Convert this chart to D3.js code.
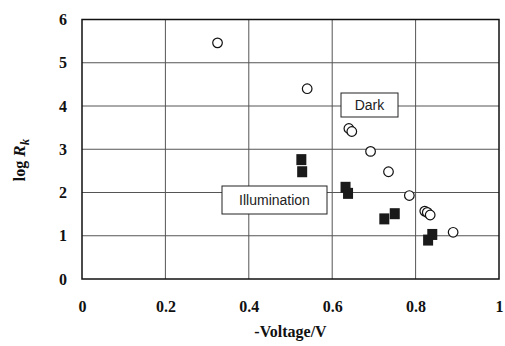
<!DOCTYPE html>
<html>

<head>
    <meta charset="utf-8">
    <title>log Rk vs voltage</title>
    <script type="text/javascript" src="https://d3js.org/d3.v7.min.js"></script>
    <style>
        body {
            margin: 0;
            background: #fff;
        }

        svg {
            display: block;
        }

        .grid line {
            stroke: #555;
            stroke-width: 1;
        }
    </style>
</head>

<body>
</body>

<script type="text/javascript">
    var w = 505;
    var h = 346;

    // tick labels
    var xTicks = [0, 0.2, 0.4, 0.6, 0.8, 1];
    var yTicks = [0, 1, 2, 3, 4, 5, 6];

    // dark series (open circles)
    var darkX = [0.325, 0.540, 0.640, 0.647, 0.692, 0.735, 0.785, 0.822, 0.828, 0.835, 0.890];
    var darkY = [5.46, 4.40, 3.48, 3.41, 2.95, 2.48, 1.93, 1.57, 1.54, 1.48, 1.08];

    // illumination series (filled squares)
    var illumX = [0.526, 0.528, 0.632, 0.638, 0.725, 0.750, 0.830, 0.840];
    var illumY = [2.76, 2.48, 2.12, 1.98, 1.39, 1.51, 0.90, 1.03];

    var serif = "'Liberation Serif', 'Times New Roman', serif";
    var margin = { top: 19.5, right: 6, bottom: 67, left: 82 };

    var x = d3.scaleLinear().domain([0, 1]).range([margin.left, w - margin.right]);
    var y = d3.scaleLinear().domain([0, 6]).range([h - margin.bottom, margin.top]);

    var svg = d3.select("body")
        .append("svg")
        .attr("width", w)
        .attr("height", h);

    //Grid lines
    var grid = svg.append("g").attr("class", "grid");
    grid.selectAll("line.v")
        .data(xTicks.slice(1, -1))
        .enter()
        .append("line")
        .attr("class", "v")
        .attr("x1", function(d) { return x(d); })
        .attr("x2", function(d) { return x(d); })
        .attr("y1", y(0))
        .attr("y2", y(6));

    grid.selectAll("line.h")
        .data(yTicks.slice(1, -1))
        .enter()
        .append("line")
        .attr("class", "h")
        .attr("x1", x(0))
        .attr("x2", x(1))
        .attr("y1", function(d) { return y(d); })
        .attr("y2", function(d) { return y(d); });

    //Axes (labels only, frame drawn separately)
    var xAxis = svg.append("g")
        .attr("transform", "translate(0," + y(0) + ")")
        .call(d3.axisBottom(x).tickValues(xTicks).tickSize(0).tickPadding(22)
            .tickFormat(function(d) { return String(d); }));

    var yAxis = svg.append("g")
        .attr("transform", "translate(" + x(0) + ",0)")
        .call(d3.axisLeft(y).tickValues(yTicks).tickSize(0).tickPadding(15)
            .tickFormat(function(d) { return String(d); }));

    [xAxis, yAxis].forEach(function(ax) {
        ax.select(".domain").remove();
        ax.attr("font-family", null).attr("font-size", null);
        ax.selectAll("text")
            .style("font-family", serif)
            .style("font-weight", "bold")
            .style("font-size", "16px")
            .attr("fill", "#111");
    });

    //Plot frame
    svg.append("rect")
        .attr("x", x(0))
        .attr("y", y(6))
        .attr("width", x(1) - x(0))
        .attr("height", y(0) - y(6))
        .attr("fill", "none")
        .attr("stroke", "#111")
        .attr("stroke-width", 1.5);

    //Axis titles
    svg.append("text")
        .attr("x", (x(0) + x(1)) / 2)
        .attr("y", 337)
        .attr("text-anchor", "middle")
        .style("font-family", serif)
        .style("font-weight", "bold")
        .style("font-size", "16px")
        .attr("fill", "#111")
        .text("-Voltage/V");

    var yTitle = svg.append("text")
        .attr("transform", "translate(25,160) rotate(-90)")
        .attr("text-anchor", "middle")
        .style("font-family", serif)
        .style("font-weight", "bold")
        .style("font-size", "16px")
        .attr("fill", "#111");
    yTitle.append("tspan").text("log ");
    yTitle.append("tspan").style("font-style", "italic").style("font-size", "17px").text("R");
    yTitle.append("tspan").style("font-style", "italic").style("font-size", "13px")
        .attr("dy", 4).text("k");

    //Label boxes
    function note(cx, cy, bw, bh, label) {
        svg.append("rect")
            .attr("x", cx - bw / 2)
            .attr("y", cy - bh / 2)
            .attr("width", bw)
            .attr("height", bh)
            .attr("fill", "#fff")
            .attr("stroke", "#222")
            .attr("stroke-width", 1);
        svg.append("text")
            .attr("x", cx)
            .attr("y", cy + 5)
            .attr("text-anchor", "middle")
            .style("font-family", "'Liberation Sans', Arial, sans-serif")
            .style("font-size", "14px")
            .attr("fill", "#222")
            .text(label);
    }
    note(369.5, 105, 57, 24, "Dark");
    note(274.5, 200, 105, 28, "Illumination");

    //Squares
    var illum = illumX.map(function(v, i) { return { x: v, y: illumY[i] }; });
    svg.selectAll("rect.sq")
        .data(illum)
        .enter()
        .append("rect")
        .attr("class", "sq")
        .attr("x", function(d) { return x(d.x) - 5; })
        .attr("y", function(d) { return y(d.y) - 5.5; })
        .attr("width", 10)
        .attr("height", 11)
        .attr("fill", "#1a1a1a");

    //Circles
    var dark = darkX.map(function(v, i) { return { x: v, y: darkY[i] }; });
    svg.selectAll("circle")
        .data(dark)
        .enter()
        .append("circle")
        .attr("cx", function(d) { return x(d.x); })
        .attr("cy", function(d) { return y(d.y); })
        .attr("r", 4.8)
        .attr("fill", "#fff")
        .attr("stroke", "#111")
        .attr("stroke-width", 1.2);
</script>

</html>
